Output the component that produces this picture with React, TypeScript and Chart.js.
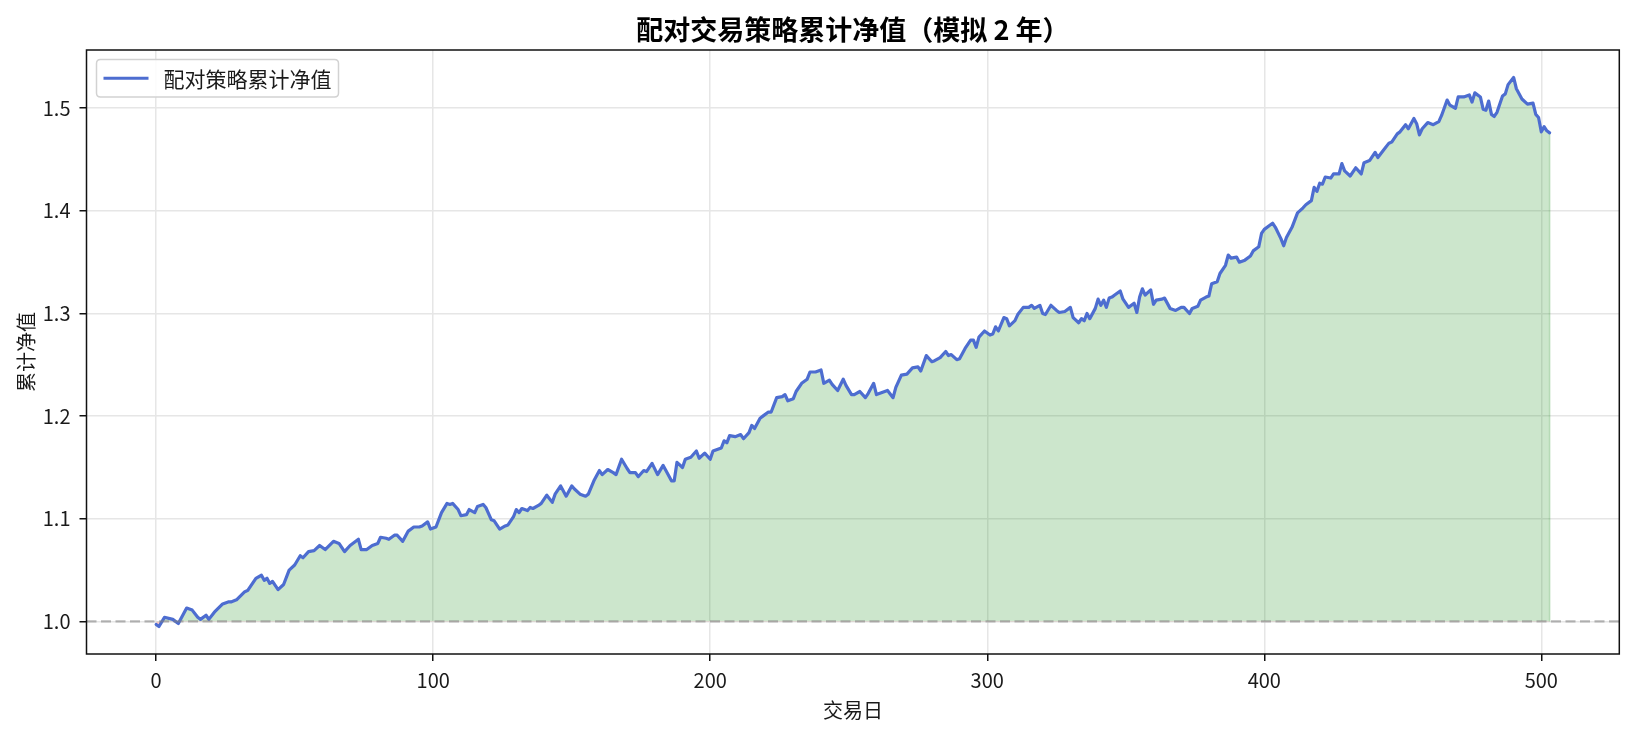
import React, { useEffect, useRef } from "react";
import { Chart, registerables } from "chart.js";

Chart.register(...registerables);

const chartTitle = "配对交易策略累计净值（模拟 2 年）";
const seriesLabel = "配对策略累计净值";
const xAxisLabel = "交易日";
const yAxisLabel = "累计净值";
const xTickValues = [0, 100, 200, 300, 400, 500];
const yTickValues = [1.0, 1.1, 1.2, 1.3, 1.4, 1.5];
const baselineValue = 1.0;

// [trading day, cumulative NAV]
const navPoints: [number, number][] = [
  [0, 0.997], [1, 0.995], [3, 1.004], [6, 1.002], [8, 0.998], [11, 1.013], [13, 1.011], [15, 1.004], [16, 1.002], [18, 1.006],
  [19, 1.002], [21, 1.009], [24, 1.017], [26, 1.019], [27, 1.019], [29, 1.021], [32, 1.029], [33, 1.03], [36, 1.042], [38, 1.045],
  [39, 1.04], [40, 1.042], [41, 1.037], [42, 1.039], [44, 1.031], [46, 1.036], [48, 1.05], [50, 1.055], [52, 1.064], [53, 1.062],
  [55, 1.068], [57, 1.069], [59, 1.074], [61, 1.07], [64, 1.078], [66, 1.076], [68, 1.068], [70, 1.074], [73, 1.08], [74, 1.07],
  [76, 1.07], [78, 1.074], [80, 1.076], [81, 1.082], [83, 1.081], [84, 1.08], [86, 1.084], [87, 1.084], [89, 1.078], [91, 1.088],
  [93, 1.092], [95, 1.092], [96, 1.093], [98, 1.097], [99, 1.09], [101, 1.092], [103, 1.106], [105, 1.115], [106, 1.114], [107, 1.115],
  [109, 1.109], [110, 1.103], [112, 1.104], [113, 1.109], [115, 1.106], [116, 1.112], [118, 1.114], [119, 1.111], [121, 1.099], [122, 1.098],
  [124, 1.09], [126, 1.093], [127, 1.094], [129, 1.102], [130, 1.109], [131, 1.106], [132, 1.11], [134, 1.108], [135, 1.111], [136, 1.11],
  [138, 1.113], [139, 1.115], [141, 1.123], [143, 1.116], [144, 1.124], [146, 1.132], [148, 1.122], [150, 1.132], [151, 1.129], [153, 1.124],
  [155, 1.122], [156, 1.124], [158, 1.137], [160, 1.147], [161, 1.143], [163, 1.148], [165, 1.145], [166, 1.143], [168, 1.158], [170, 1.149],
  [171, 1.145], [173, 1.145], [174, 1.141], [176, 1.147], [177, 1.146], [179, 1.154], [181, 1.143], [183, 1.152], [184, 1.147], [186, 1.137],
  [187, 1.137], [188, 1.155], [190, 1.15], [191, 1.158], [193, 1.16], [195, 1.166], [196, 1.159], [198, 1.164], [200, 1.158], [201, 1.166],
  [203, 1.168], [204, 1.169], [205, 1.176], [206, 1.174], [207, 1.181], [209, 1.18], [211, 1.182], [212, 1.178], [214, 1.184], [215, 1.191],
  [216, 1.188], [218, 1.198], [219, 1.2], [221, 1.204], [222, 1.204], [224, 1.218], [226, 1.219], [227, 1.221], [228, 1.215], [230, 1.217],
  [231, 1.224], [233, 1.232], [235, 1.236], [236, 1.243], [238, 1.243], [240, 1.245], [241, 1.232], [243, 1.235], [244, 1.231], [246, 1.225],
  [248, 1.236], [249, 1.23], [251, 1.221], [252, 1.221], [254, 1.224], [256, 1.218], [257, 1.222], [259, 1.232], [260, 1.221], [262, 1.223],
  [264, 1.225], [266, 1.218], [267, 1.228], [269, 1.24], [271, 1.241], [273, 1.247], [275, 1.248], [276, 1.244], [278, 1.259], [280, 1.253],
  [281, 1.254], [283, 1.257], [285, 1.263], [286, 1.259], [287, 1.26], [289, 1.255], [290, 1.256], [292, 1.266], [294, 1.274], [295, 1.274],
  [296, 1.267], [297, 1.277], [299, 1.283], [301, 1.279], [302, 1.28], [303, 1.287], [304, 1.283], [306, 1.296], [307, 1.295], [308, 1.288],
  [310, 1.293], [311, 1.299], [313, 1.306], [315, 1.306], [316, 1.308], [317, 1.305], [319, 1.308], [320, 1.3], [321, 1.299], [323, 1.308],
  [325, 1.303], [326, 1.301], [328, 1.302], [330, 1.306], [331, 1.296], [333, 1.291], [334, 1.295], [335, 1.293], [336, 1.3], [337, 1.295],
  [339, 1.305], [340, 1.314], [341, 1.308], [342, 1.313], [343, 1.306], [344, 1.315], [345, 1.316], [346, 1.318], [348, 1.322], [349, 1.314],
  [351, 1.306], [353, 1.31], [354, 1.301], [355, 1.316], [356, 1.324], [357, 1.318], [359, 1.323], [360, 1.309], [361, 1.313], [363, 1.314],
  [364, 1.315], [366, 1.305], [368, 1.303], [370, 1.306], [371, 1.306], [373, 1.3], [374, 1.305], [376, 1.307], [377, 1.313], [379, 1.316],
  [380, 1.317], [381, 1.329], [383, 1.331], [384, 1.339], [386, 1.347], [387, 1.357], [388, 1.354], [390, 1.355], [391, 1.35], [393, 1.352],
  [395, 1.356], [396, 1.361], [398, 1.365], [399, 1.378], [400, 1.382], [402, 1.386], [403, 1.388], [404, 1.384], [406, 1.373], [407, 1.366],
  [408, 1.374], [410, 1.384], [411, 1.391], [412, 1.398], [414, 1.403], [415, 1.406], [417, 1.41], [418, 1.423], [419, 1.419], [420, 1.427],
  [421, 1.426], [422, 1.433], [424, 1.432], [425, 1.436], [427, 1.436], [428, 1.446], [429, 1.439], [431, 1.434], [433, 1.442], [435, 1.436],
  [436, 1.447], [438, 1.449], [440, 1.457], [441, 1.452], [443, 1.459], [445, 1.466], [446, 1.467], [448, 1.475], [449, 1.477], [451, 1.484],
  [452, 1.48], [454, 1.49], [455, 1.485], [456, 1.474], [457, 1.48], [459, 1.486], [461, 1.484], [463, 1.487], [464, 1.493], [466, 1.508],
  [467, 1.503], [469, 1.5], [470, 1.511], [472, 1.511], [474, 1.513], [475, 1.506], [476, 1.515], [478, 1.511], [479, 1.499], [480, 1.498],
  [481, 1.507], [482, 1.494], [483, 1.492], [484, 1.496], [486, 1.512], [487, 1.514], [488, 1.523], [490, 1.53], [491, 1.519], [493, 1.509],
  [495, 1.504], [497, 1.505], [498, 1.494], [499, 1.491], [500, 1.477], [501, 1.482], [502, 1.478], [503, 1.476],
];

const FONT = '"Noto Sans CJK SC", "Noto Sans", sans-serif';
const LINE_COLOR = "#4d6dd0";
const TEXT_COLOR = "#1a1a1a";

export default function App() {
  const canvasRef = useRef<HTMLCanvasElement>(null);

  useEffect(() => {
    const canvas = canvasRef.current;
    if (!canvas) return;

    const dataMin = Math.min(...navPoints.map((p) => p[1]));
    const dataMax = Math.max(...navPoints.map((p) => p[1]));
    const xFirst = navPoints[0][0];
    const xLast = navPoints[navPoints.length - 1][0];
    const xPad = (xLast - xFirst) * 0.05;
    const yPad = (dataMax - dataMin) * 0.05;

    const baselinePlugin = {
      id: "baselinePlugin",
      beforeDatasetsDraw(chart: any) {
        // edge of the filled area at the last trading day
        const { ctx, scales } = chart;
        const last = navPoints[navPoints.length - 1];
        const x = scales.x.getPixelForValue(last[0]);
        ctx.save();
        ctx.strokeStyle = "rgba(0,128,0,0.25)";
        ctx.lineWidth = 1.5;
        ctx.beginPath();
        ctx.moveTo(x, scales.y.getPixelForValue(baselineValue));
        ctx.lineTo(x, scales.y.getPixelForValue(last[1]));
        ctx.stroke();
        ctx.restore();
      },
      afterDatasetsDraw(chart: any) {
        const { ctx, chartArea, scales } = chart;
        const y = scales.y.getPixelForValue(baselineValue);
        ctx.save();
        ctx.beginPath();
        ctx.rect(chartArea.left, chartArea.top, chartArea.right - chartArea.left, chartArea.bottom - chartArea.top);
        ctx.clip();
        ctx.strokeStyle = "rgba(128,128,128,0.55)";
        ctx.lineWidth = 2.4;
        ctx.setLineDash([10, 4.5]);
        ctx.beginPath();
        ctx.moveTo(chartArea.left, y);
        ctx.lineTo(chartArea.right, y);
        ctx.stroke();
        ctx.restore();

        // frame
        ctx.save();
        ctx.strokeStyle = "#111";
        ctx.lineWidth = 1.5;
        ctx.strokeRect(chartArea.left, chartArea.top, chartArea.right - chartArea.left, chartArea.bottom - chartArea.top);
        ctx.restore();
      },
    };

    const legendPlugin = {
      id: "legendBoxPlugin",
      afterDraw(chart: any) {
        const { ctx, chartArea } = chart;
        const label = chart.data.datasets[0].label as string;
        const x0 = chartArea.left + 10;
        const y0 = chartArea.top + 9.5;
        const w = 242;
        const h = 37.5;
        ctx.save();
        ctx.beginPath();
        const r = 4;
        ctx.moveTo(x0 + r, y0);
        ctx.lineTo(x0 + w - r, y0);
        ctx.quadraticCurveTo(x0 + w, y0, x0 + w, y0 + r);
        ctx.lineTo(x0 + w, y0 + h - r);
        ctx.quadraticCurveTo(x0 + w, y0 + h, x0 + w - r, y0 + h);
        ctx.lineTo(x0 + r, y0 + h);
        ctx.quadraticCurveTo(x0, y0 + h, x0, y0 + h - r);
        ctx.lineTo(x0, y0 + r);
        ctx.quadraticCurveTo(x0, y0, x0 + r, y0);
        ctx.closePath();
        ctx.fillStyle = "rgba(255,255,255,0.85)";
        ctx.fill();
        ctx.strokeStyle = "#d2d2d2";
        ctx.lineWidth = 1.5;
        ctx.stroke();

        const cy = y0 + h / 2;
        ctx.strokeStyle = LINE_COLOR;
        ctx.lineWidth = 3.2;
        ctx.beginPath();
        ctx.moveTo(x0 + 7, cy);
        ctx.lineTo(x0 + 52, cy);
        ctx.stroke();

        ctx.fillStyle = TEXT_COLOR;
        ctx.font = `21px ${FONT}`;
        ctx.textAlign = "left";
        ctx.textBaseline = "middle";
        ctx.fillText(label, x0 + 67, cy + 1);
        ctx.restore();
      },
    };

    const chart = new Chart(canvas, {
      type: "line",
      data: {
        datasets: [
          {
            label: seriesLabel,
            data: navPoints.map(([d, v]) => ({ x: d, y: v })),
            borderColor: LINE_COLOR,
            borderWidth: 3.2,
            pointRadius: 0,
            tension: 0,
            borderJoinStyle: "round",
            borderCapStyle: "round",
            fill: {
              target: { value: baselineValue },
              above: "rgba(0,128,0,0.2)",
              below: "rgba(255,0,0,0.2)",
            },
          } as any,
        ],
      },
      options: {
        responsive: false,
        animation: false,
        devicePixelRatio: 1,
        layout: { padding: { left: 0, right: 15.7, top: 0, bottom: 0 } },
        plugins: {
          legend: { display: false },
          tooltip: { enabled: false },
          title: {
            display: true,
            text: chartTitle,
            fullSize: false,
            color: "#000",
            font: { family: FONT, size: 27, weight: "bold" },
            padding: { top: 14, bottom: 3.6 },
          },
        },
        scales: {
          x: {
            type: "linear",
            min: xFirst - xPad,
            max: xLast + xPad,
            afterBuildTicks: (s: any) => {
              s.ticks = xTickValues.map((v) => ({ value: v }));
            },
            afterFit: (s: any) => {
              s.height = 80;
            },
            ticks: {
              font: { family: FONT, size: 20 },
              color: TEXT_COLOR,
              padding: 7,
              maxRotation: 0,
              autoSkip: false,
              callback: (v: any) => String(v),
            },
            grid: {
              color: "#e6e6e6",
              lineWidth: 1.5,
              drawTicks: true,
              tickLength: 7,
              tickColor: "#111",
              tickWidth: 1.5,
            },
            border: { display: false },
            title: {
              display: true,
              text: xAxisLabel,
              color: TEXT_COLOR,
              font: { family: FONT, size: 20 },
              padding: { top: 0, bottom: 12 },
            },
          },
          y: {
            type: "linear",
            min: dataMin - yPad,
            max: dataMax + yPad,
            afterBuildTicks: (s: any) => {
              s.ticks = yTickValues.map((v) => ({ value: v }));
            },
            afterFit: (s: any) => {
              s.width = 86.5;
            },
            ticks: {
              font: { family: FONT, size: 20 },
              color: TEXT_COLOR,
              padding: 9,
              autoSkip: false,
              callback: (v: any) => Number(v).toFixed(1),
            },
            grid: {
              color: "#e6e6e6",
              lineWidth: 1.5,
              drawTicks: true,
              tickLength: 7,
              tickColor: "#111",
              tickWidth: 1.5,
            },
            border: { display: false },
            title: {
              display: true,
              text: yAxisLabel,
              color: TEXT_COLOR,
              font: { family: FONT, size: 20 },
              padding: { top: 14.7, bottom: 0 },
            },
          },
        },
      },
      plugins: [baselinePlugin, legendPlugin],
    });

    return () => chart.destroy();
  }, []);

  return (
    <div style={{ position: "fixed", left: 0, top: 0, width: 1635, height: 734, background: "#fff" }}>
      <canvas ref={canvasRef} width={1635} height={734} style={{ display: "block", width: 1635, height: 734 }} />
    </div>
  );
}
